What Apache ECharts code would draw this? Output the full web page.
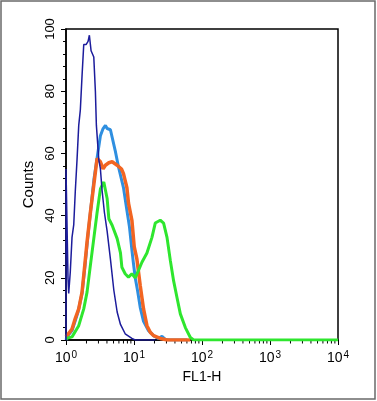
<!DOCTYPE html>
<html lang="en">
  <head>
    <meta charset="utf-8" />
    <title>FL1-H histogram</title>
    <script src="https://cdn.jsdelivr.net/npm/echarts@6.0.0/dist/echarts.min.js"></script>
    <style>
      html, body { margin: 0; padding: 0; background: #fff; }
      #main { width: 377px; height: 401px; }
    </style>
  </head>
  <body>
    <div id="main"></div>
    <script>
      // FL1-H values (log scale) and counts
      var navyX = [1, 1, 1.034, 1.07, 1.096, 1.157, 1.226, 1.299, 1.371, 1.453, 1.539, 1.625, 1.722, 1.824, 1.972, 2.111, 2.207, 2.338, 2.562, 2.705, 2.798, 3.036, 3.206, 3.396, 3.672, 4.025, 4.502, 5.052, 5.652, 6.325, 7.417, 9.312, 10.42, 20.54];
      var navyY = [0, 55, 55, 20, 15, 22, 33, 37, 48, 58, 69, 74, 85, 95, 95, 96, 98, 93, 91, 80, 69, 58, 55, 48, 41, 35, 26, 16, 9, 5, 2, 0.5, 0, 0];

      var blueX = [1, 1.034, 1.226, 1.503, 1.722, 1.906, 2.111, 2.338, 2.588, 2.866, 3.206, 3.513, 3.799, 4.025, 4.502, 4.721, 5.281, 5.907, 6.999, 7.86, 8.582, 9.312, 9.831, 10.42, 11.26, 12.34, 13.81, 16.37, 19.39, 22.75, 25.79, 28.85, 34.2, 60.29];
      var blueY = [0, 1, 3, 9, 15, 24, 34, 43, 52, 58.5, 65.7, 68, 69, 68, 67.6, 67.5, 61, 55.7, 49, 41.7, 36.3, 29, 24.5, 20, 16, 10.5, 6, 3, 1.4, 0.5, 1.2, 0.2, 0, 0];

      var orangeX = [1, 1.034, 1.226, 1.371, 1.539, 1.722, 1.887, 2.04, 2.283, 2.562, 2.866, 3.206, 3.513, 3.799, 4.264, 4.769, 5.652, 6.543, 6.999, 7.86, 8.296, 9.312, 10.07, 11.03, 12.34, 13.81, 15.5, 17.34, 19.39, 24.34, 30.88, 67.44];
      var orangeY = [1, 1, 3.5, 7, 10, 15.4, 24, 31.5, 41, 49.8, 58.4, 57.3, 55, 56.2, 57, 57.3, 56.2, 55, 53.5, 49, 44, 38.5, 30, 26, 17.5, 10, 4.6, 2.5, 1.4, 0.5, 0, 0];

      var greenX = [1, 1.226, 1.539, 1.824, 2.04, 2.283, 2.562, 2.866, 3.206, 3.597, 4.025, 4.264, 4.769, 5.652, 6.325, 6.632, 7.417, 8.296, 9.312, 10.42, 11.65, 13.08, 15.5, 18.37, 20.54, 24.34, 27.24, 30.57, 34.2, 38.25, 42.93, 48.03, 56.91, 67.44, 75.44, 10000];
      var greenY = [0.5, 1, 4.6, 10, 15.4, 24, 32.6, 41, 48.6, 50.8, 45.5, 39, 36.9, 32.6, 28, 23.4, 21.3, 20.2, 21.3, 20, 22.4, 25, 28, 33, 37.6, 38.5, 37.6, 33, 25.6, 19, 13.6, 8.4, 4, 0.8, 0, 0];

      var yTicks = [0, 20, 40, 60, 80, 100];

      function pairs(xs, ys) {
        return xs.map(function (x, i) { return [x, ys[i]]; });
      }

      // minor ticks 2..9 in each decade
      var minorTicks = [];
      [1, 10, 100, 1000].forEach(function (d) {
        for (var k = 2; k <= 9; k++) minorTicks.push([k * d, 0]);
      });

      var font = "'Liberation Sans', Arial, sans-serif";
      var chart = echarts.init(document.getElementById("main"));

      function hist(name, color, width, xs, ys) {
        return {
          name: name,
          type: "line",
          data: pairs(xs, ys),
          showSymbol: false,
          symbol: "none",
          lineStyle: { color: color, width: width },
          animation: false,
        };
      }

      chart.setOption({
        animation: false,
        grid: {
          left: 66, right: 39, top: 29, bottom: 61,
          show: true, borderColor: "#000", borderWidth: 1.5,
        },
        graphic: [
          {
            type: "rect",
            shape: { x: 1, y: 1, width: 374, height: 398 },
            style: { fill: "none", stroke: "#6a6a6a", lineWidth: 1.5 },
          },
        ],
        xAxis: {
          type: "log",
          logBase: 10,
          min: 1,
          max: 10000,
          name: "FL1-H",
          nameLocation: "middle",
          nameGap: 27,
          nameTextStyle: { fontFamily: font, fontSize: 14, color: "#000" },
          axisLine: { lineStyle: { color: "#000", width: 1.5 } },
          axisTick: { length: 5, lineStyle: { color: "#000", width: 1 } },
          splitLine: { show: false },
          axisLabel: {
            margin: 7,
            color: "#000",
            formatter: function (v) {
              return "{b|10}{s|" + Math.round(Math.log10(v)) + "}";
            },
            rich: {
              b: { fontFamily: font, fontSize: 14, color: "#000", lineHeight: 18, verticalAlign: "bottom" },
              s: { fontFamily: font, fontSize: 10, color: "#000", lineHeight: 18, verticalAlign: "bottom", padding: [0, 0, 5, 1] },
            },
          },
        },
        yAxis: {
          type: "value",
          min: yTicks[0],
          max: yTicks[yTicks.length - 1],
          interval: 20,
          name: "Counts",
          nameLocation: "middle",
          nameGap: 29,
          nameTextStyle: { fontFamily: font, fontSize: 15, color: "#000" },
          axisLine: { show: true, lineStyle: { color: "#000", width: 1.5 } },
          axisTick: { show: true, length: 5, lineStyle: { color: "#000", width: 1 } },
          minorTick: { show: true, splitNumber: 5, length: 3, lineStyle: { color: "#000", width: 1 } },
          splitLine: { show: false },
          axisLabel: {
            rotate: 90,
            margin: 9,
            fontFamily: font,
            fontSize: 13,
            color: "#000",
          },
        },
        series: [
          hist("blue", "#2f8fe0", 3, blueX, blueY),
          hist("orange", "#f26522", 3.5, orangeX, orangeY),
          hist("green", "#2ee62e", 3, greenX, greenY),
          hist("navy", "#1c1c9c", 1.5, navyX, navyY),
          {
            type: "custom",
            silent: true,
            clip: false,
            data: minorTicks,
            renderItem: function (params, api) {
              var p = api.coord([api.value(0), 0]);
              return {
                type: "line",
                shape: { x1: p[0], y1: p[1], x2: p[0], y2: p[1] + 3.5 },
                style: { stroke: "#000", lineWidth: 1 },
              };
            },
          },
        ],
      });
    </script>
  </body>
</html>
